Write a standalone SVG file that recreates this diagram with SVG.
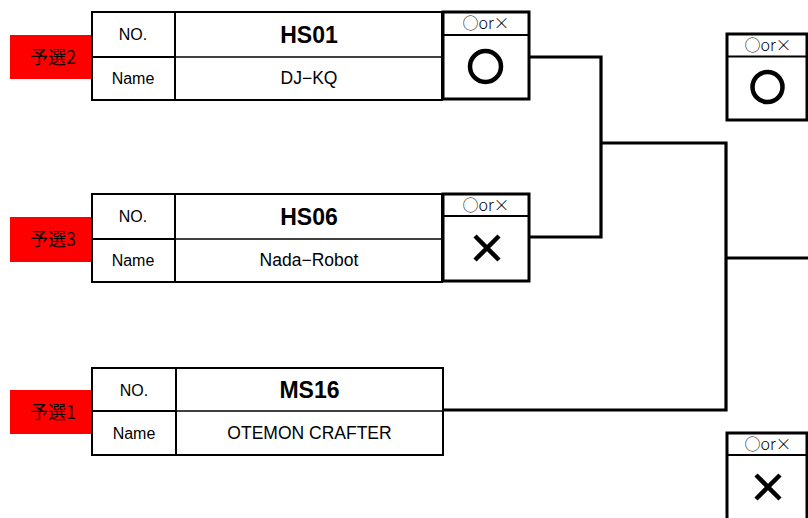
<svg xmlns="http://www.w3.org/2000/svg" width="808" height="518" viewBox="0 0 808 518">
<style>
.tbl{fill:#fff;stroke:#000;stroke-width:2}
.ln{stroke:#000;stroke-width:2;fill:none}
.thin{stroke:#000;stroke-width:1.3;fill:none}
.box{fill:#fff;stroke:#000;stroke-width:3}
.red{fill:#ff0000}
.lbl{font-family:"Liberation Sans","Noto Sans CJK JP",sans-serif;font-size:16px;text-anchor:middle;fill:#000}
.nm{font-family:"Liberation Sans","Noto Sans CJK JP",sans-serif;font-size:17.5px;text-anchor:middle;fill:#000}
.cjk{font-family:"Noto Sans CJK JP",sans-serif;font-size:18px;text-anchor:middle;fill:#100000}
.no{font-family:"Liberation Sans",sans-serif;font-size:23px;font-weight:bold;text-anchor:middle;fill:#000}
.hdr{font-family:"Noto Sans CJK JP",sans-serif;font-size:16px;font-weight:300;text-anchor:middle;fill:#000}
.conn{stroke:#000;stroke-width:3.2;fill:none}
.mark{stroke:#000;stroke-width:4.5;fill:none}
</style>

<g id="connectors">
<path class="conn" d="M528 57 H601 V237 H528"/>
<path class="conn" d="M601 143 H726 V410 H443"/>
<path class="conn" d="M726 258 H810"/>
</g>

<g id="team-hs01">
<rect class="red" x="10" y="35" width="82" height="44"/>
<text class="cjk" x="53" y="63.5">予選2</text>
<rect class="tbl" x="92" y="12" width="350" height="88"/>
<line class="ln" x1="92" y1="57" x2="175" y2="57"/>
<line class="thin" x1="175" y1="57" x2="442" y2="57"/>
<line class="ln" x1="175" y1="12" x2="175" y2="100"/>
<text class="lbl" x="133" y="40">NO.</text>
<text class="no" x="309" y="43">HS01</text>
<text class="lbl" x="133" y="84">Name</text>
<text class="nm" x="309" y="84">DJ−KQ</text>
<rect class="box" x="443" y="12" width="86" height="87"/>
<line class="ln" x1="443" y1="35" x2="529" y2="35"/>
<text class="hdr" x="486" y="29">○or×</text>
<circle class="mark" cx="485.5" cy="66.5" r="15.5"/>
</g>

<g id="team-hs06">
<rect class="red" x="10" y="217" width="82" height="45"/>
<text class="cjk" x="53" y="245.5">予選3</text>
<rect class="tbl" x="92" y="194" width="350" height="88"/>
<line class="ln" x1="92" y1="239" x2="175" y2="239"/>
<line class="thin" x1="175" y1="239" x2="442" y2="239"/>
<line class="ln" x1="175" y1="194" x2="175" y2="282"/>
<text class="lbl" x="133" y="222">NO.</text>
<text class="no" x="309" y="225">HS06</text>
<text class="lbl" x="133" y="266">Name</text>
<text class="nm" x="309" y="266">Nada−Robot</text>
<rect class="box" x="443" y="194" width="86" height="87"/>
<line class="ln" x1="443" y1="216" x2="529" y2="216"/>
<text class="hdr" x="486" y="210.5">○or×</text>
<path class="mark" d="M475 236 L499 260 M499 236 L475 260"/>
</g>

<g id="team-ms16">
<rect class="red" x="10" y="390" width="82" height="44"/>
<text class="cjk" x="53" y="418.5">予選1</text>
<rect class="tbl" x="92" y="368" width="351" height="87"/>
<line class="ln" x1="92" y1="411" x2="176" y2="411"/>
<line class="thin" x1="176" y1="411" x2="443" y2="411"/>
<line class="ln" x1="176" y1="368" x2="176" y2="455"/>
<text class="lbl" x="134" y="396">NO.</text>
<text class="no" x="309.5" y="398">MS16</text>
<text class="lbl" x="134" y="439">Name</text>
<text class="nm" x="309.5" y="439">OTEMON CRAFTER</text>
</g>

<g id="result-top">
<rect class="box" x="727" y="34" width="80" height="86"/>
<line class="ln" x1="727" y1="56.5" x2="807" y2="56.5"/>
<text class="hdr" x="768" y="51">○or×</text>
<circle class="mark" cx="767.5" cy="87" r="15"/>
</g>

<g id="result-bottom">
<rect class="box" x="727" y="433" width="80" height="90"/>
<line class="ln" x1="727" y1="455" x2="807" y2="455"/>
<text class="hdr" x="768" y="450">○or×</text>
<path class="mark" d="M756 475 L780 499 M780 475 L756 499"/>
</g>
</svg>
